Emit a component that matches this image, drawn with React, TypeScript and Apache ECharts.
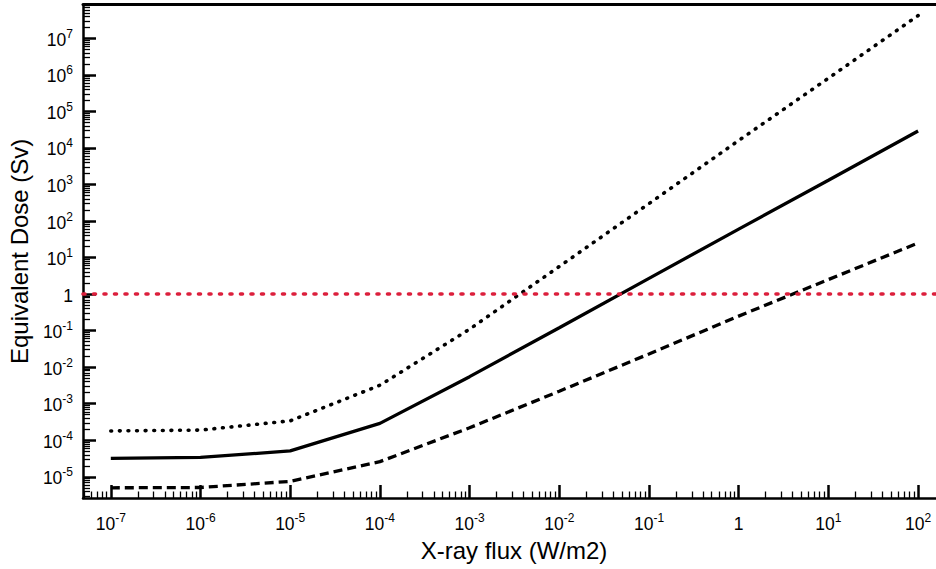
import React, { useEffect, useRef } from "react";
import * as echarts from "echarts";

// X-ray flux (W/m2) at each sample point
const flux = [1e-7, 1e-6, 1e-5, 1e-4, 1e-3, 1e-2, 1e-1, 1, 10, 100];
// Equivalent dose (Sv)
const doseMid = [3.2e-5, 3.4e-5, 5.1e-5, 2.9e-4, 5.5e-3, 0.12, 2.7, 60, 1.3e3, 2.9e4];
const doseHigh = [1.8e-4, 1.9e-4, 3.4e-4, 3.2e-3, 0.11, 5.7, 300, 1.6e4, 8.1e5, 4.2e7];
const doseLow = [5.0e-6, 5.1e-6, 7.5e-6, 2.6e-5, 2.2e-4, 2.2e-3, 0.023, 0.25, 2.5, 25];
const thresholdDose = 1;

// decade exponents shown as tick labels
const xDecades = [-7, -6, -5, -4, -3, -2, -1, 0, 1, 2];
const yDecades = [-5, -4, -3, -2, -1, 0, 1, 2, 3, 4, 5, 6, 7];

const X_MIN = -7.31;
const X_MAX = 2.3;
const Y_MIN = -5.58;
const Y_MAX = 7.92;

const FONT = "'Liberation Sans', Arial, Helvetica, sans-serif";

function minorTicks(lo: number, hi: number): number[] {
  const out: number[] = [];
  for (let d = Math.floor(lo) - 1; d <= Math.ceil(hi); d++) {
    for (let k = 2; k <= 9; k++) {
      const v = d + Math.log10(k);
      if (v > lo && v < hi) out.push(v);
    }
  }
  return out;
}

function toPairs(ys: number[]) {
  return flux.map((x, i) => [Math.log10(x), Math.log10(ys[i])]);
}

const labelFmt = (v: number) => (v === 0 ? "{b|1}" : `{b|10}{s|${v}}`);
const rich = {
  b: { fontSize: 17.5, fontFamily: FONT, color: "#000", lineHeight: 21, verticalAlign: "bottom" },
  s: { fontSize: 12, fontFamily: FONT, color: "#000", lineHeight: 12, verticalAlign: "top" },
};

export default function App() {
  const ref = useRef<HTMLDivElement>(null);
  useEffect(() => {
    if (!ref.current) return;
    const chart = echarts.init(ref.current, undefined, { renderer: "svg" });
    const grid = {
      left: 83,
      top: 4.7,
      width: 862,
      height: 493.3,
      containLabel: false,
      outerBoundsMode: "none",
    };
    chart.setOption({
      animation: false,
      backgroundColor: "#fff",
      grid,
      xAxis: [
        {
          type: "value",
          min: X_MIN,
          max: X_MAX,
          position: "bottom",
          name: "X-ray flux (W/m2)",
          nameLocation: "middle",
          nameGap: 40,
          nameTextStyle: { fontSize: 24, fontFamily: FONT, color: "#000" },
          axisLine: { show: true, onZero: false, lineStyle: { color: "#000", width: 2.5 } },
          axisTick: {
            show: true,
            inside: true,
            length: 13,
            customValues: xDecades,
            lineStyle: { color: "#000", width: 2.5 },
          },
          axisLabel: {
            show: true,
            customValues: xDecades,
            margin: 14,
            formatter: labelFmt,
            rich,
          },
          splitLine: { show: false },
        },
        {
          type: "value",
          min: X_MIN,
          max: X_MAX,
          position: "bottom",
          axisLine: { show: false, onZero: false },
          axisTick: {
            show: true,
            inside: true,
            length: 6.5,
            customValues: minorTicks(X_MIN, X_MAX),
            lineStyle: { color: "#000", width: 1.3 },
          },
          axisLabel: { show: false },
          splitLine: { show: false },
        },
        {
          type: "value",
          min: X_MIN,
          max: X_MAX,
          position: "top",
          axisLine: { show: true, onZero: false, lineStyle: { color: "#000", width: 3 } },
          axisTick: { show: false },
          axisLabel: { show: false },
          splitLine: { show: false },
        },
      ],
      yAxis: [
        {
          type: "value",
          min: Y_MIN,
          max: Y_MAX,
          position: "left",
          name: "Equivalent Dose (Sv)",
          nameLocation: "middle",
          nameGap: 49,
          nameTextStyle: { fontSize: 24, fontFamily: FONT, color: "#000" },
          axisLine: { show: true, onZero: false, lineStyle: { color: "#000", width: 2.5 } },
          axisTick: {
            show: true,
            inside: true,
            length: 13,
            customValues: yDecades,
            lineStyle: { color: "#000", width: 2.5 },
          },
          axisLabel: {
            show: true,
            customValues: yDecades,
            margin: 10,
            formatter: labelFmt,
            rich,
          },
          splitLine: { show: false },
        },
        {
          type: "value",
          min: Y_MIN,
          max: Y_MAX,
          position: "left",
          axisLine: { show: false, onZero: false },
          axisTick: {
            show: true,
            inside: true,
            length: 7,
            customValues: minorTicks(Y_MIN, Y_MAX),
            lineStyle: { color: "#000", width: 1.3 },
          },
          axisLabel: { show: false },
          splitLine: { show: false },
        },
      ],
      series: [
        {
          name: "Dose (high)",
          type: "line",
          data: toPairs(doseHigh),
          showSymbol: false,
          symbol: "none",
          lineStyle: { color: "#000", width: 3.6, type: [0.8, 7.8], cap: "round" },
        },
        {
          name: "Dose",
          type: "line",
          data: toPairs(doseMid),
          showSymbol: false,
          symbol: "none",
          lineStyle: { color: "#000", width: 3.3, type: "solid" },
          markLine: {
            silent: true,
            symbol: "none",
            label: { show: false },
            lineStyle: { color: "#dc1f3c", width: 3.6, type: [2, 8.5], cap: "round" },
            data: [{ yAxis: Math.log10(thresholdDose) }],
          },
        },
        {
          name: "Dose (low)",
          type: "line",
          data: toPairs(doseLow),
          showSymbol: false,
          symbol: "none",
          lineStyle: { color: "#000", width: 3.3, type: [9, 5] },
        },
      ],
    });
    return () => chart.dispose();
  }, []);
  return (
    <div
      ref={ref}
      style={{ position: "fixed", left: 0, top: 0, width: 936, height: 569, background: "#fff" }}
    />
  );
}
